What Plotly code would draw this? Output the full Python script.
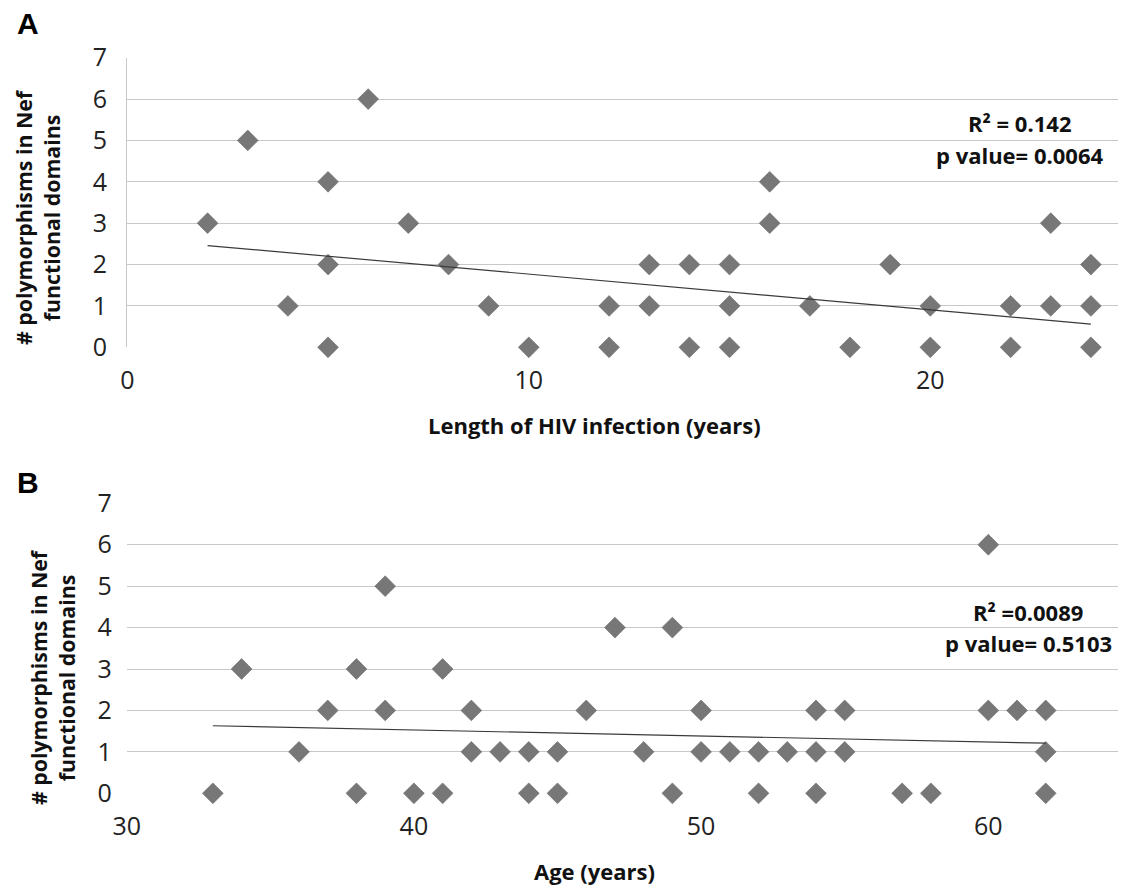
import plotly.graph_objects as go

# ---------------- data ----------------
a_x = [2, 3, 4, 5, 5, 5, 6, 7, 8, 9, 10, 12, 12, 13, 13, 14, 14, 15, 15, 15,
       16, 16, 17, 18, 19, 20, 20, 22, 22, 23, 23, 24, 24, 24]
a_y = [3, 5, 1, 4, 2, 0, 6, 3, 2, 1, 0, 1, 0, 2, 1, 2, 0, 2, 1, 0,
       4, 3, 1, 0, 2, 1, 0, 1, 0, 3, 1, 2, 1, 0]
a_trend_x = [2, 24]
a_trend_y = [2.46, 0.56]
a_xticks = [0, 10, 20]

b_x = [33, 34, 36, 37, 38, 38, 39, 39, 40, 41, 41, 42, 42, 43, 44, 44, 45, 45, 46, 47,
       48, 49, 49, 50, 50, 51, 52, 52, 53, 54, 54, 54, 55, 55, 57, 58, 60, 60, 61, 62,
       62, 62]
b_y = [0, 3, 1, 2, 3, 0, 5, 2, 0, 3, 0, 2, 1, 1, 1, 0, 1, 0, 2, 4,
       1, 4, 0, 2, 1, 1, 1, 0, 1, 2, 1, 0, 2, 1, 0, 0, 6, 2, 2, 2,
       1, 0]
b_trend_x = [33, 62]
b_trend_y = [1.63, 1.21]
b_xticks = [30, 40, 50, 60]

y_ticks = [0, 1, 2, 3, 4, 5, 6, 7]

# ---------------- layout helpers ----------------
# The page body has an 8 px margin, so screen pixel (X, Y) maps to figure
# pixel (X - 8, Y - 8).  Positions below are given in screen pixels.
W, H = 1126, 886
OFF = 8
def px(x):
    return (x - OFF) / W
def py(y):
    return 1 - (y - OFF) / H

MARKER = dict(symbol="diamond", size=16, color="#777777",
              line=dict(color="#6a6a6a", width=0.6))
TREND = dict(color="#3a3a3a", width=1.2)
GRID = "#c8c8c8"
TICKFONT = dict(family="Open Sans", size=25, color="#222222")
BOLD = dict(family="Open Sans", size=22, color="#111111", weight="bold")
YBOLD = dict(family="Open Sans", size=21.3, color="#111111", weight="bold")

fig = go.Figure()
fig.add_trace(go.Scatter(x=a_x, y=a_y, mode="markers", marker=MARKER, cliponaxis=False,
                         xaxis="x", yaxis="y", showlegend=False))
fig.add_trace(go.Scatter(x=a_trend_x, y=a_trend_y, mode="lines", line=TREND,
                         xaxis="x", yaxis="y", showlegend=False))
fig.add_trace(go.Scatter(x=b_x, y=b_y, mode="markers", marker=MARKER, cliponaxis=False,
                         xaxis="x2", yaxis="y2", showlegend=False))
fig.add_trace(go.Scatter(x=b_trend_x, y=b_trend_y, mode="lines", line=TREND,
                         xaxis="x2", yaxis="y2", showlegend=False))

a_left, a_unit = 127.3, 40.15
b_left, b_unit = 126.7, 28.72
right_screen = W + OFF  # right end of the plot area (beyond the visible page)

common_x = dict(showgrid=False, zeroline=False, showline=False, ticks="",
                tickfont=TICKFONT, ticklabelstandoff=16, automargin=False)
common_y = dict(range=[0, 7], tickvals=y_ticks, showgrid=True, gridcolor=GRID,
                gridwidth=1.3, zeroline=False, ticks="", tickfont=TICKFONT,
                ticklabelstandoff=14, automargin=False)

fig.update_layout(
    width=W, height=H,
    margin=dict(l=0, r=0, t=0, b=0, autoexpand=False),
    paper_bgcolor="white", plot_bgcolor="white",
    xaxis=dict(domain=[px(a_left), 1], range=[0, (right_screen - a_left) / a_unit],
               tickvals=a_xticks, anchor="y", **common_x),
    yaxis=dict(domain=[py(347.3), py(57.7)], showline=True, linecolor=GRID,
               linewidth=1.3, anchor="x", **common_y),
    xaxis2=dict(domain=[px(b_left), 1], range=[30, 30 + (right_screen - b_left) / b_unit],
                tickvals=b_xticks, anchor="y2", **common_x),
    yaxis2=dict(domain=[py(793.3), py(503.3)], showline=False, anchor="x2",
                **common_y),
)

ytitle = "# polymorphisms in Nef<br>functional domains"
LETTER = dict(family="Liberation Sans", size=30, color="#000000", weight="bold")
ann = [
    dict(text="A", x=px(27.5), y=py(24), font=LETTER),
    dict(text="B", x=px(27.5), y=py(482.5), font=LETTER),
    dict(text=ytitle, x=px(38), y=py(217), textangle=-90, font=YBOLD),
    dict(text=ytitle, x=px(52), y=py(677), textangle=-90, font=YBOLD),
    dict(text="Length of HIV infection (years)", x=px(594.5), y=py(425), font=BOLD),
    dict(text="Age (years)", x=px(594.5), y=py(871), font=BOLD),
    dict(text="R² = 0.142", x=px(1019), y=py(123), font=BOLD),
    dict(text="p value= 0.0064", x=px(1019), y=py(155), font=BOLD),
    dict(text="R² =0.0089", x=px(1028), y=py(611.5), font=BOLD),
    dict(text="p value= 0.5103", x=px(1028), y=py(643.3), font=BOLD),
]
for a in ann:
    a.update(xref="paper", yref="paper", xanchor="center", yanchor="middle",
             showarrow=False)
fig.update_layout(annotations=ann)

fig.write_html("out.html")
